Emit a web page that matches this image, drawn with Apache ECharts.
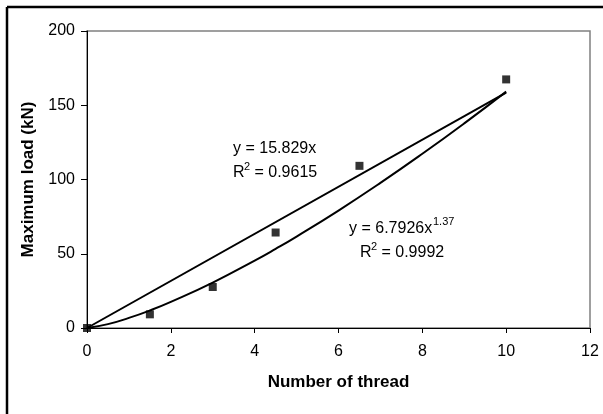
<!DOCTYPE html>
<html>
<head>
<meta charset="utf-8">
<script src="https://cdn.jsdelivr.net/npm/echarts@6/dist/echarts.min.js"></script>
<style>
html,body{margin:0;padding:0;background:#fff;}
#chart{width:603px;height:414px;}
</style>
</head>
<body>
<div id="chart"></div>
<script>
// Measured points
var threadCount = [0, 1.5, 3, 4.5, 6.5, 10];
var maxLoad = [0, 9.2, 27.6, 64.3, 109.2, 167.4];
// Linear trendline
var linearX = [0, 10];
var linearY = [0, 158.5];
// Power trendline
var powerX = [0, 0.5, 1, 1.5, 2, 3, 4, 4.5, 5, 6, 7, 8, 9, 10];
var powerY = [0, 2.6, 6.8, 11.8, 17.6, 30.6, 45.4, 53.3, 61.6, 79.1, 97.7, 117.3, 137.8, 159.2];
// Axis ticks
var xTicks = [0, 2, 4, 6, 8, 10, 12];
var yTicks = [0, 50, 100, 150, 200];
// Annotations
var linearEq = 'y = 15.829x';
var linearR2 = ' = 0.9615';
var powerEq = 'y = 6.7926x';
var powerExp = '1.37';
var powerR2 = ' = 0.9992';

var FONT = 'Arial, "Liberation Sans", sans-serif';

function pairs(xs, ys) { return xs.map(function (x, i) { return [x, ys[i]]; }); }

var chart = echarts.init(document.getElementById('chart'), null, {renderer: 'canvas'});

function textEl(x, y, txt, size) {
  return {type: 'text', left: x, top: y, z: 100,
    style: {text: txt, font: (size || 16) + 'px ' + FONT, fill: '#000'}};
}

var option = {
  backgroundColor: '#fff',
  animation: false,
  grid: {left: 87, right: 13, top: 31, bottom: 86, show: true,
    borderColor: '#808080', borderWidth: 1.5, backgroundColor: 'transparent'},
  xAxis: {
    type: 'value', min: xTicks[0], max: xTicks[xTicks.length - 1], interval: 2,
    name: 'Number of thread', nameLocation: 'middle', nameGap: 46,
    nameTextStyle: {fontFamily: FONT, fontWeight: 'bold', fontSize: 17, color: '#000'},
    axisLine: {show: true, lineStyle: {color: '#000', width: 1}},
    axisTick: {show: true, inside: false, length: 5, lineStyle: {color: '#000'}},
    axisLabel: {fontFamily: FONT, fontSize: 16, color: '#000', margin: 16},
    splitLine: {show: false}
  },
  yAxis: {
    type: 'value', min: yTicks[0], max: yTicks[yTicks.length - 1], interval: 50,
    name: 'Maximum load (kN)', nameLocation: 'middle', nameGap: 50,
    nameTextStyle: {fontFamily: FONT, fontWeight: 'bold', fontSize: 17, color: '#000'},
    axisLine: {show: true, lineStyle: {color: '#000', width: 1}},
    axisTick: {show: true, inside: false, length: 6, lineStyle: {color: '#000'}},
    axisLabel: {fontFamily: FONT, fontSize: 16, color: '#000', margin: 12},
    splitLine: {show: false}
  },
  series: [
    {type: 'line', data: pairs(linearX, linearY), showSymbol: false, symbol: 'none',
      lineStyle: {color: '#000', width: 2}, z: 3},
    {type: 'line', data: pairs(powerX, powerY), showSymbol: false, symbol: 'none', smooth: true,
      lineStyle: {color: '#000', width: 2}, z: 3},
    {type: 'scatter', data: pairs(threadCount, maxLoad), symbol: 'rect', symbolSize: 8,
      itemStyle: {color: '#000'}, z: 5}
  ],
  graphic: [
    {type: 'line', z: 100, shape: {x1: 7, y1: 7, x2: 603, y2: 7}, style: {stroke: '#000', lineWidth: 2.5}},
    {type: 'line', z: 100, shape: {x1: 7, y1: 7, x2: 7, y2: 414}, style: {stroke: '#000', lineWidth: 2.5}},
    textEl(233, 141, linearEq),
    textEl(233, 165, 'R'),
    textEl(244, 161, '2', 11),
    textEl(250, 165, linearR2),
    textEl(349, 221, powerEq),
    textEl(433, 216, powerExp, 11),
    textEl(360, 245, 'R'),
    textEl(371, 241, '2', 11),
    textEl(377, 245, powerR2)
  ]
};
chart.setOption(option);
</script>
</body>
</html>
